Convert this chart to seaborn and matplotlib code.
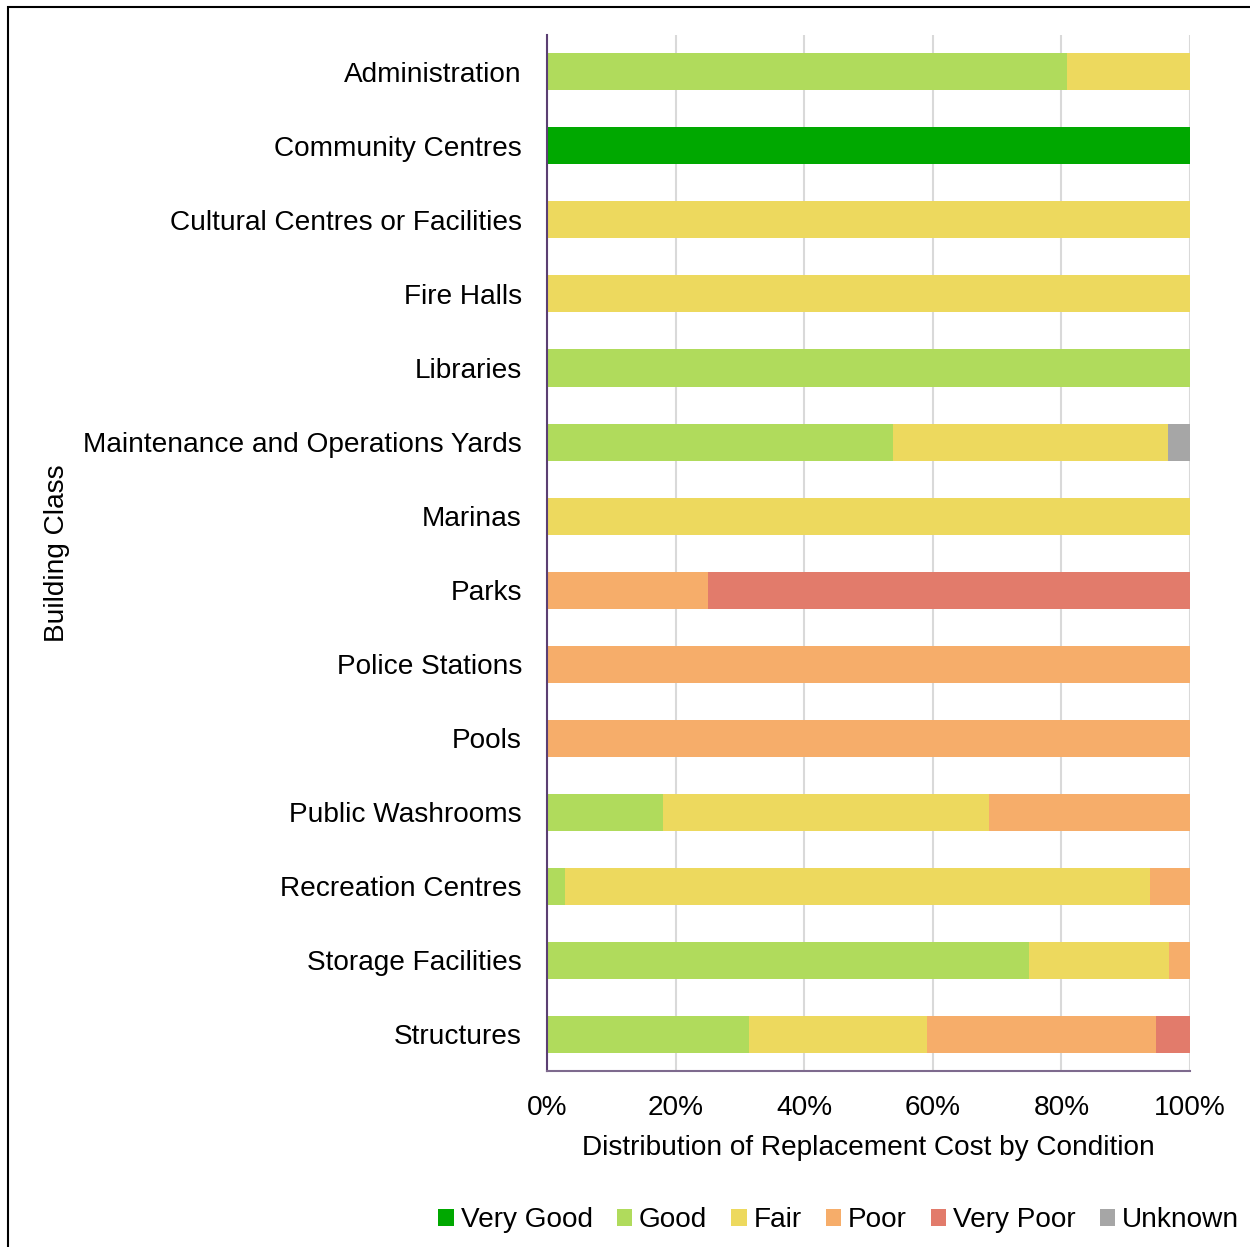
import numpy as np
import pandas as pd
import seaborn as sns
import matplotlib.pyplot as plt
from matplotlib.patches import Patch, Rectangle

classes = ["Administration", "Community Centres", "Cultural Centres or Facilities",
           "Fire Halls", "Libraries", "Maintenance and Operations Yards", "Marinas",
           "Parks", "Police Stations", "Pools", "Public Washrooms",
           "Recreation Centres", "Storage Facilities", "Structures"]

conditions = ["Very Good", "Good", "Fair", "Poor", "Very Poor", "Unknown"]
colors = ["#00A800", "#B0DB5C", "#EDD95E", "#F6AD6A", "#E27B6B", "#A6A6A6"]

very_good = [0, 100, 0, 0, 0, 0, 0, 0, 0, 0, 0, 0, 0, 0]
good      = [80.9, 0, 0, 0, 100, 53.8, 0, 0, 0, 0, 18.0, 2.8, 75.0, 31.4]
fair      = [19.1, 0, 100, 100, 0, 42.8, 100, 0, 0, 0, 50.7, 91.0, 21.7, 27.7]
poor      = [0, 0, 0, 0, 0, 0, 0, 25.0, 100, 100, 31.3, 6.2, 3.3, 35.6]
very_poor = [0, 0, 0, 0, 0, 0, 0, 75.0, 0, 0, 0, 0, 0, 5.3]
unknown   = [0, 0, 0, 0, 0, 3.4, 0, 0, 0, 0, 0, 0, 0, 0]

df = pd.DataFrame({"Class": classes, "Very Good": very_good, "Good": good,
                   "Fair": fair, "Poor": poor, "Very Poor": very_poor,
                   "Unknown": unknown})
cum = df[conditions].cumsum(axis=1)
cum = cum.div(df[conditions].sum(axis=1), axis=0)

sns.set_style("white")
plt.rcParams["font.family"] = ["Liberation Sans", "DejaVu Sans"]
plt.rcParams["text.color"] = "black"
fs = 20.2

fig = plt.figure(figsize=(12.5, 12.47), dpi=100)
ax = fig.add_axes([0.4376, 0.141, 0.5144, 0.831])

# draw cumulative totals from the outermost segment inwards
for cond, col in reversed(list(zip(conditions, colors))):
    sns.barplot(x=cum[cond], y=df["Class"], orient="h", color=col,
                width=0.5, saturation=1, linewidth=0, ax=ax)

ax.set_xlim(0, 1)
ax.set_xticks(np.linspace(0, 1, 6))
ax.set_xticklabels([f"{int(v)}%" for v in np.linspace(0, 100, 6)])
ax.xaxis.grid(True, color="#D9D9D9", linewidth=1.5)
ax.set_axisbelow(True)
for s in ["top", "right"]:
    ax.spines[s].set_visible(False)
ax.spines["left"].set_color("#5B3F73")
ax.spines["left"].set_linewidth(1.5)
ax.spines["bottom"].set_color("#7E6A8E")
ax.spines["bottom"].set_linewidth(1.5)
ax.tick_params(axis="both", labelsize=fs, length=0, colors="black")
ax.tick_params(axis="y", pad=18)
ax.tick_params(axis="x", pad=17)

ax.set_xlabel("Distribution of Replacement Cost by Condition", fontsize=fs,
              labelpad=10.5, color="black")
ax.set_ylabel("")
fig.text(0.046, 0.556, "Building Class", rotation=90, fontsize=fs,
         ha="center", va="center", color="black")

handles = [Patch(facecolor=c, edgecolor="none", label=l) for l, c in zip(conditions, colors)]
fig.legend(handles=handles, loc="center", bbox_to_anchor=(0.671, 0.0215), ncol=6,
           frameon=False, fontsize=fs, handlelength=0.55, handleheight=0.55,
           handletextpad=0.25, columnspacing=0.85, labelcolor="black")

fig.patches.append(Rectangle((0.0064, -0.01), 1.05, 1.004, transform=fig.transFigure,
                             fill=False, edgecolor="black", linewidth=1.5))

fig.savefig("out.png", dpi=100)
